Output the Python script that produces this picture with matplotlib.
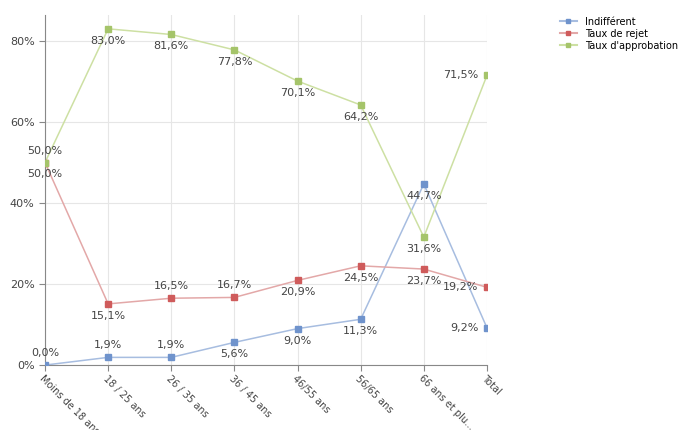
import matplotlib
matplotlib.use("Agg")
import matplotlib.pyplot as plt

categories = ["Moins de 18 ans", "18 / 25 ans", "26 / 35 ans", "36 / 45 ans",
              "46/55 ans", "56/65 ans", "66 ans et plu...", "Total"]
indifferent = [0.0, 1.9, 1.9, 5.6, 9.0, 11.3, 44.7, 9.2]
rejet = [50.0, 15.1, 16.5, 16.7, 20.9, 24.5, 23.7, 19.2]
approbation = [50.0, 83.0, 81.6, 77.8, 70.1, 64.2, 31.6, 71.5]
series_names = ["Indifférent", "Taux de rejet", "Taux d'approbation"]
yticks = [0, 20, 40, 60, 80]

# label placement: 'a' above, 'b' below, 'l' left
pos_ind = ['a', 'a', 'a', 'b', 'b', 'b', 'b', 'l']
pos_rej = ['b', 'b', 'a', 'a', 'b', 'b', 'b', 'l']
pos_app = ['a', 'b', 'b', 'b', 'b', 'b', 'b', 'l']

line_cols = ["#a7bde0", "#e3a8a8", "#cde0a3"]
mark_cols = ["#6f93cc", "#cf5b5b", "#a5c46a"]

fig = plt.figure(figsize=(6.82, 4.30), dpi=100)
ax = fig.add_axes([0.066, 0.151, 0.648, 0.814])
x = list(range(len(categories)))

for vals, pos, lc, mc, name in zip([indifferent, rejet, approbation],
                                   [pos_ind, pos_rej, pos_app],
                                   line_cols, mark_cols, series_names):
    ax.plot(x, vals, color=lc, lw=1.1, zorder=2)
    ax.plot(x, vals, ls='none', marker='s', ms=4.5, color=mc, zorder=3)
    ax.plot([], [], color=lc, lw=1.5, marker='s', ms=3.5, mfc=mc, mec=mc, label=name)
    for xi, v, p in zip(x, vals, pos):
        txt = f"{v:.1f}%".replace('.', ',')
        if p == 'a':
            ax.annotate(txt, (xi, v), xytext=(0, 5), textcoords='offset points',
                        ha='center', va='bottom', fontsize=8, color='#444444', zorder=4)
        elif p == 'b':
            ax.annotate(txt, (xi, v), xytext=(0, -5), textcoords='offset points',
                        ha='center', va='top', fontsize=8, color='#444444', zorder=4)
        else:
            ax.annotate(txt, (xi, v), xytext=(-6, 0), textcoords='offset points',
                        ha='right', va='center', fontsize=8, color='#444444', zorder=4)

ax.set_xlim(0, len(categories) - 1)
ax.set_ylim(0, 86.4)
ax.set_yticks(yticks)
ax.set_yticklabels([f"{t}%" for t in yticks], fontsize=8, color='#444444')
ax.set_xticks(x)
ax.set_xticklabels(categories, rotation=-45, ha='left', va='top',
                   rotation_mode='anchor', fontsize=7, color='#444444')
ax.grid(True, color='#e6e6e6', lw=0.8)
ax.set_axisbelow(True)
for s in ['top', 'right']:
    ax.spines[s].set_visible(False)
ax.spines['left'].set_color('#888888')
ax.spines['bottom'].set_color('#888888')
ax.tick_params(axis='both', colors='#888888', length=4, labelcolor='#444444')
ax.tick_params(axis='x', pad=2)
for lab in ax.get_xticklabels():
    lab.set_clip_on(False)

fig.legend(loc='upper left', bbox_to_anchor=(0.815, 0.97), frameon=False,
           fontsize=7, handlelength=1.8, labelspacing=0.2, borderaxespad=0)
fig.savefig("out.png", dpi=100)
